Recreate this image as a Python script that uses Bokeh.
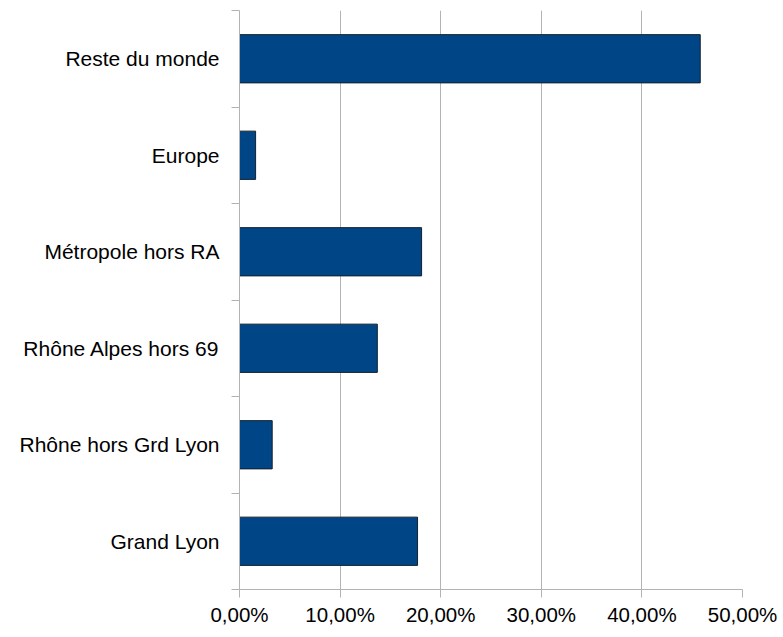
from bokeh.plotting import figure
from bokeh.models import FixedTicker, Range1d
from bokeh.embed import file_html
from bokeh.resources import INLINE

categories = ["Grand Lyon", "Rhône hors Grd Lyon", "Rhône Alpes hors 69",
              "Métropole hors RA", "Europe", "Reste du monde"]
values = [17.7, 3.25, 13.7, 18.1, 1.6, 45.8]
x_ticks = [0, 10, 20, 30, 40, 50]
x_tick_labels = ["0,00%", "10,00%", "20,00%", "30,00%", "40,00%", "50,00%"]

positions = [i + 0.5 for i in range(len(categories))]

p = figure(width=783, height=637, output_backend="svg", toolbar_location=None,
           x_range=Range1d(0, 50), y_range=Range1d(0, len(categories)),
           min_border_left=239, min_border_right=41, min_border_top=10, min_border_bottom=48)
p.outline_line_color = None

p.hbar(y=positions, right=values, left=0, height=0.5,
       fill_color="#004586", line_color="#14202e", line_width=1)

FONT = "Liberation Sans"
grid_col = "#b3b3b3"

# x axis
p.xaxis.ticker = FixedTicker(ticks=x_ticks)
p.xaxis.major_label_overrides = {t: l for t, l in zip(x_ticks, x_tick_labels)}
p.xaxis.major_tick_out = 8
p.xaxis.major_tick_in = 0
p.xaxis.minor_tick_line_color = None
p.xaxis.axis_line_color = grid_col
p.xaxis.major_tick_line_color = grid_col
p.xaxis.major_label_text_font = FONT
p.xaxis.major_label_text_font_size = "20.5px"
p.xaxis.major_label_text_color = "#000000"
p.xaxis.major_label_standoff = 5

# y axis
p.yaxis.ticker = FixedTicker(ticks=positions, minor_ticks=list(range(len(categories) + 1)))
p.yaxis.major_label_overrides = {pos: c for pos, c in zip(positions, categories)}
p.yaxis.major_tick_line_color = None
p.yaxis.major_tick_out = 0
p.yaxis.major_tick_in = 0
p.yaxis.minor_tick_out = 8
p.yaxis.minor_tick_in = 0
p.yaxis.minor_tick_line_color = grid_col
p.yaxis.axis_line_color = grid_col
p.yaxis.major_label_text_font = FONT
p.yaxis.major_label_text_font_size = "21px"
p.yaxis.major_label_text_color = "#000000"
p.yaxis.major_label_standoff = 12

# grids
p.xgrid.ticker = FixedTicker(ticks=x_ticks)
p.xgrid.grid_line_color = grid_col
p.ygrid.ticker = FixedTicker(ticks=[len(categories)])
p.ygrid.grid_line_color = grid_col

open("out.html", "w").write(file_html(p, INLINE))
